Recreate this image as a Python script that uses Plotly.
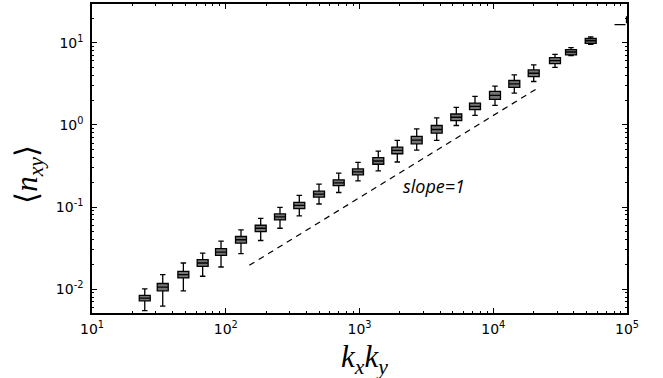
import math
import plotly.graph_objects as go

# bin centres (k_x * k_y)
kxky = [24.8, 33.8, 48.2, 67.2, 92.2, 130.0, 182.5, 254.4, 354.7, 498.1, 699.0, 974.5,
        1382, 1917, 2677, 3778, 5293, 7304, 10306, 14370, 20070, 28950, 38140, 53530,
        88680, 109000]
upper = [0.01009, 0.01506, 0.02081, 0.02749, 0.0384, 0.05275, 0.0729, 0.0990, 0.1383, 0.190,
         0.258, 0.3506, 0.480, 0.647, 0.894, 1.214, 1.636, 2.223, 2.961, 4.067, 5.375, 7.220,
         8.70, 11.82, 16.65, 22.4]
q3 = [0.00839, 0.01172, 0.01651, 0.02288, 0.03108, 0.04378, 0.05996, 0.0824, 0.1138, 0.1563,
      0.2141, 0.291, 0.3985, 0.537, 0.7233, 0.9826, 1.357, 1.844, 2.554, 3.470, 4.675, 6.585,
      8.229, 11.27, 16.65, 20.6]
med = [0.00778, 0.01058, 0.01506, 0.02081, 0.02827, 0.03993, 0.05515, 0.0758, 0.1047, 0.1438,
       0.197, 0.2676, 0.3635, 0.490, 0.6527, 0.879, 1.238, 1.682, 2.285, 3.166, 4.252, 6.057,
       7.718, 10.57, 16.65, 19.1]
q1 = [0.00722, 0.00954, 0.01370, 0.01898, 0.02578, 0.03633, 0.0503, 0.0697, 0.0955, 0.1323,
      0.1827, 0.2462, 0.3316, 0.4454, 0.5886, 0.7929, 1.129, 1.534, 2.044, 2.855, 3.879, 5.572,
      7.100, 9.81, 16.65, 17.6]
lower = [0.00547, 0.00623, 0.00954, 0.01437, 0.01862, 0.02703, 0.03915, 0.05515, 0.0779, 0.1088,
         0.1503, 0.2083, 0.2752, 0.3535, 0.4939, 0.6471, 0.9826, 1.309, 1.729, 2.436, 3.375,
         5.025, 6.962, 9.54, 16.65, 16.9]

# reference line of slope 1
ref_x = [150, 21500]
ref_y = [0.0195, 2.80]
slope_label_pos = (3606, 0.1812)

x_tickvals = [10, 100, 1000, 10000, 100000]
x_ticktext = ["10<sup>1</sup>", "10<sup>2</sup>", "10<sup>3</sup>", "10<sup>4</sup>", "10<sup>5</sup>"]
y_tickvals = [0.01, 0.1, 1, 10]
y_ticktext = ["10<sup>-2</sup>", "10<sup>-1</sup>", "10<sup>0</sup>", "10<sup>1</sup>"]

fig = go.Figure()
fig.add_trace(go.Box(
    x=kxky, q1=q1, median=med, q3=q3, lowerfence=lower, upperfence=upper,
    width=0.082, whiskerwidth=0.5, boxpoints=False,
    fillcolor="#747474", line=dict(color="black", width=1.3),
    showlegend=False, hoverinfo="skip",
))
fig.add_trace(go.Scatter(
    x=ref_x, y=ref_y, mode="lines",
    line=dict(color="black", width=1.2, dash="6px,5px"),
    showlegend=False, hoverinfo="skip",
))

axis_common = dict(
    type="log", showgrid=False, zeroline=False,
    showline=True, linecolor="black", linewidth=1.5, mirror="allticks",
    ticks="inside", ticklen=5, tickwidth=1, tickcolor="black",
    tickfont=dict(family="DejaVu Sans", size=14, color="black"),
    minor=dict(ticks="inside", ticklen=2.5, tickwidth=1, tickcolor="black", dtick="D1", showgrid=False),
)

fig.update_xaxes(range=[1, 5], tickvals=x_tickvals, ticktext=x_ticktext,
                 ticklabelstandoff=2, **axis_common)
fig.update_yaxes(range=[-2.2902, 1.4718], tickvals=y_tickvals, ticktext=y_ticktext,
                 ticklabelstandoff=4, **axis_common)

# annotations on log axes take log10 coordinates
fig.add_annotation(
    x=math.log10(slope_label_pos[0]), y=math.log10(slope_label_pos[1]),
    xref="x", yref="y", text="<i>slope=1</i>", showarrow=False,
    xanchor="center", yanchor="middle",
    font=dict(family="Open Sans", size=18, color="black"),
)
fig.add_annotation(
    x=-0.118, y=0.45, xref="paper", yref="paper", textangle=-90,
    xanchor="center", yanchor="middle",
    text="⟨<i>n</i><sub><i>xy</i></sub>⟩", showarrow=False,
    font=dict(family="Liberation Serif", size=31, color="black"),
)
fig.add_annotation(
    x=0.51, y=-0.077, xref="paper", yref="paper",
    xanchor="center", yanchor="top",
    text="<i>k</i><sub><i>x</i></sub><i>k</i><sub><i>y</i></sub>", showarrow=False,
    font=dict(family="Liberation Serif", size=31, color="black"),
)

fig.update_layout(
    width=663, height=378,
    margin=dict(l=92, r=36, t=2, b=65),
    plot_bgcolor="white", paper_bgcolor="white",
)

fig.write_html("out.html", config={"displayModeBar": False},
               post_script="document.body.style.margin='0';document.body.style.overflow='hidden';")
